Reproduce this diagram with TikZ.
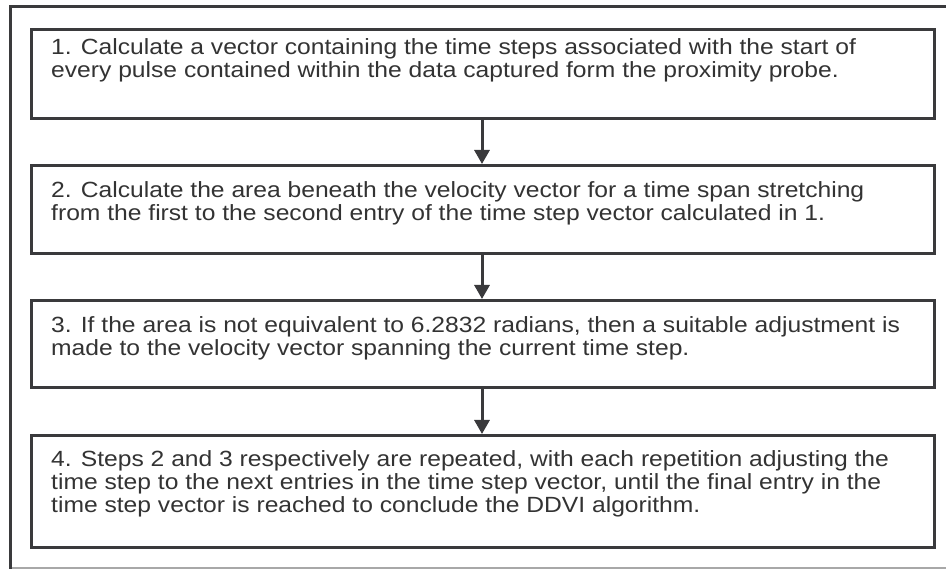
\documentclass[tikz,border=0pt]{standalone}
\usepackage{fontspec}
\setmainfont{Liberation Sans}
\newfontfamily\stepfont[FakeStretch=1.12]{Liberation Sans}
\usetikzlibrary{arrows.meta}
\definecolor{edge}{HTML}{3A3A3C}
\definecolor{ink}{HTML}{333333}
\definecolor{rule}{HTML}{A8A8A8}
\tikzset{
  stepbox/.style={draw=edge, line width=3pt, rectangle, inner sep=0pt, fill=white},
  steptext/.style={anchor=base west, inner sep=0pt, align=left, text=ink,
    font=\stepfont\fontsize{22}{23}\selectfont},
  flow/.style={draw=edge, line width=3pt, -{Triangle[length=14pt,width=15pt]}}
}
\begin{document}
\begin{tikzpicture}[x=1pt,y=-1pt]
\useasboundingbox (0,0) rectangle (946,569);
\fill[white] (0,0) rectangle (946,569);
% outer frame
\draw[draw=edge, line width=3pt] (946,6.5) -- (10,6.5) -- (10,569);
\draw[draw=rule, line width=1.5pt] (11.5,568) -- (946,568);
% boxes
\node[stepbox, minimum width=903pt, minimum height=89pt] (b1) at (483,74) {};
\node[stepbox, minimum width=903pt, minimum height=88pt] (b2) at (483,209.5) {};
\node[stepbox, minimum width=903pt, minimum height=87.5pt] (b3) at (483,344.25) {};
\node[stepbox, minimum width=903pt, minimum height=111.5pt] (b4) at (483,491.25) {};
% texts (base anchor = baseline of last line)
\node[steptext] (t1) at (51,77.5) {1. Calculate a vector containing the time steps associated with the start of\\every pulse contained within the data captured form the proximity probe.};
\node[steptext] (t2) at (51,220.5) {2. Calculate the area beneath the velocity vector for a time span stretching\\from the first to the second entry of the time step vector calculated in 1.};
\node[steptext] (t3) at (51,355.2) {3. If the area is not equivalent to 6.2832 radians, then a suitable adjustment is\\made to the velocity vector spanning the current time step.};
\node[steptext] (t4) at (51,512.8) {4. Steps 2 and 3 respectively are repeated, with each repetition adjusting the\\time step to the next entries in the time step vector, until the final entry in the\\time step vector is reached to conclude the DDVI algorithm.};
% connectors
\draw[flow] (b1.south -| 482,0) -- (b2.north -| 482,0);
\draw[flow] (b2.south -| 482,0) -- (b3.north -| 482,0);
\draw[flow] (b3.south -| 482,0) -- (b4.north -| 482,0);
\end{tikzpicture}
\end{document}
